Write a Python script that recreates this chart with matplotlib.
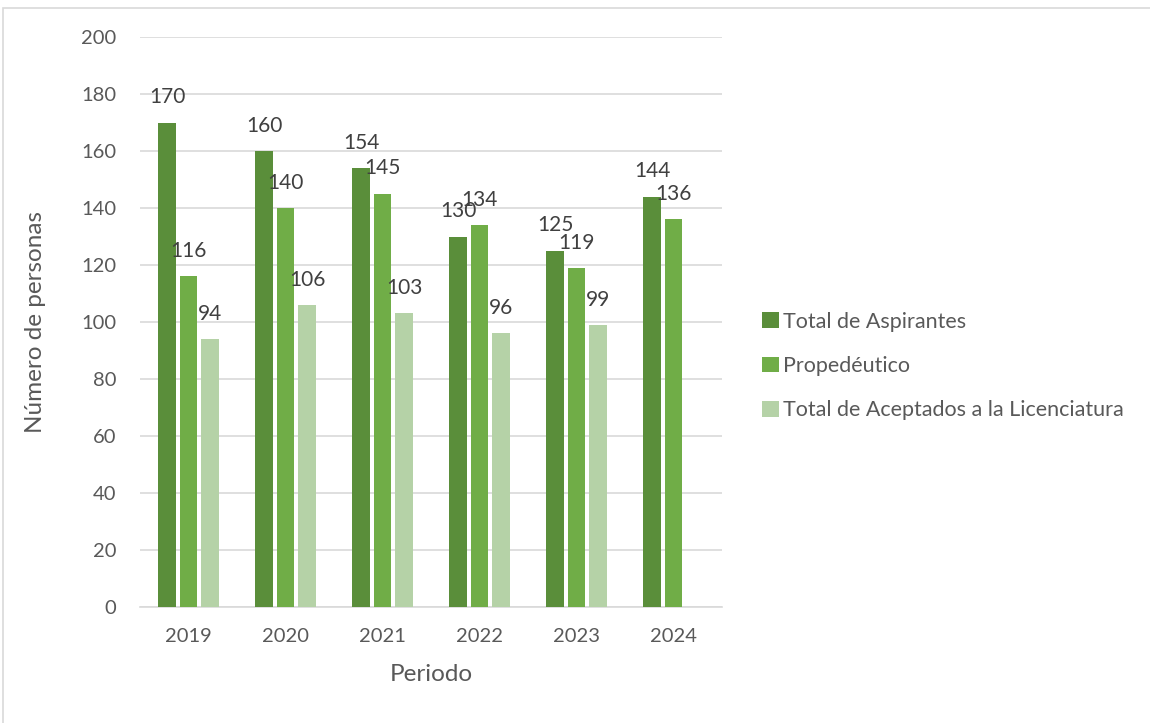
import numpy as np
import matplotlib
matplotlib.use('Agg')
import matplotlib.pyplot as plt
from matplotlib.patches import Rectangle

plt.rcParams['font.family'] = ['Lato', 'DejaVu Sans']

periodos = ['2019', '2020', '2021', '2022', '2023', '2024']
aspirantes = [170, 160, 154, 130, 125, 144]
propedeutico = [116, 140, 145, 134, 119, 136]
aceptados = [94, 106, 103, 96, 99, None]

series_names = ['Total de Aspirantes', 'Propedéutico',
                'Total de Aceptados a la Licenciatura']
colors = ['#5A8E3A', '#70AD47', '#B5D2A7']
text_color = '#595959'

fig = plt.figure(figsize=(11.5, 7.23), dpi=100)
ax = fig.add_axes([140 / 1150, 1 - 607 / 723, 582 / 1150, 570 / 723])

x = np.arange(len(periodos))
width = 0.185
step = 0.222
handles = []
for k, (vals, name, c) in enumerate(zip([aspirantes, propedeutico, aceptados],
                                        series_names, colors)):
    xs = [xi + (k - 1) * step for xi, v in zip(x, vals) if v is not None]
    vs = [v for v in vals if v is not None]
    bars = ax.bar(xs, vs, width=width, color=c, label=name, zorder=3)
    handles.append(bars)
    for xi, v in zip(xs, vs):
        ax.annotate(str(v), (xi, v), xytext=(0, 11), textcoords='offset points',
                    ha='center', va='bottom', fontsize=15, color='#404040')

ax.set_xlim(-0.5, 5.5)
ax.set_ylim(0, 200)
ax.set_yticks(range(0, 201, 20))
ax.set_xticks(x)
ax.set_xticklabels(periodos)
ax.grid(axis='y', color='#D9D9D9', linewidth=1.2, zorder=0)
for s in ['top', 'right', 'left']:
    ax.spines[s].set_visible(False)
ax.spines['bottom'].set_color('#D9D9D9')
ax.spines['bottom'].set_linewidth(1.2)
ax.tick_params(length=0, labelsize=14.5, colors=text_color)
ax.tick_params(axis='y', pad=17)
ax.tick_params(axis='x', pad=15)
ax.set_ylabel('Número de personas', fontsize=17.5, color=text_color, labelpad=25)
ax.set_xlabel('Periodo', fontsize=17.5, color=text_color, labelpad=14)

fig.legend(handles=handles, labels=series_names, loc='center left',
           bbox_to_anchor=(743 / 1150, 1 - 366 / 723), frameon=False,
           fontsize=15.5, labelcolor=text_color, handlelength=0.75,
           handleheight=0.75, handletextpad=0.22, labelspacing=1.13)

fig.patches.append(Rectangle((3 / 1150, -0.01), 1, (723 - 8) / 723 + 0.01,
                             transform=fig.transFigure, fill=False,
                             edgecolor='#D9D9D9', linewidth=1.2))

fig.savefig('out.png', dpi=100)
